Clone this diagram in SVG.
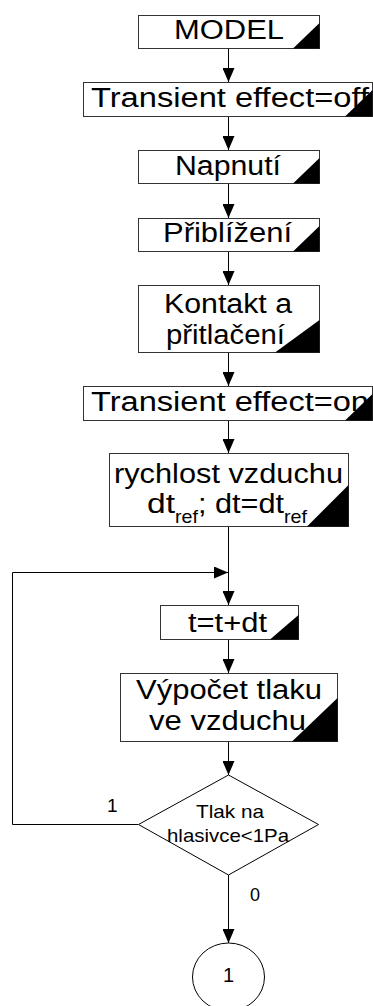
<svg xmlns="http://www.w3.org/2000/svg" width="373" height="1006" viewBox="0 0 373 1006">
<style>
.box{fill:#fff;stroke:#333;stroke-width:1}
.tri{fill:#000;stroke:none}
.t{font-family:"Liberation Sans",Arial,sans-serif;font-size:27px;fill:#000}
.s{font-family:"Liberation Sans",Arial,sans-serif;font-size:19px;fill:#000}
.c{fill:none;stroke:#000;stroke-width:1}
</style>
<defs>
<marker id="ah" markerUnits="userSpaceOnUse" markerWidth="14" markerHeight="12" viewBox="0 0 14 12" refX="14" refY="6" orient="auto">
<path d="M0,0 L14,6 L0,12 z" fill="#000"/>
</marker>
</defs>
<rect width="373" height="1006" fill="#fff"/>
<g id="connectors">
<line class="c" x1="228.5" y1="48.5" x2="228.5" y2="82" marker-end="url(#ah)"/>
<line class="c" x1="228.5" y1="116.5" x2="228.5" y2="150" marker-end="url(#ah)"/>
<line class="c" x1="228.5" y1="183.5" x2="228.5" y2="218" marker-end="url(#ah)"/>
<line class="c" x1="228.5" y1="251.5" x2="228.5" y2="285" marker-end="url(#ah)"/>
<line class="c" x1="228.5" y1="352.5" x2="228.5" y2="386" marker-end="url(#ah)"/>
<line class="c" x1="228.5" y1="420.5" x2="228.5" y2="453" marker-end="url(#ah)"/>
<line class="c" x1="228.5" y1="526.5" x2="228.5" y2="605" marker-end="url(#ah)"/>
<line class="c" x1="228.5" y1="639.5" x2="228.5" y2="673" marker-end="url(#ah)"/>
<line class="c" x1="228.5" y1="741.5" x2="228.5" y2="775" marker-end="url(#ah)"/>
<line class="c" x1="228.5" y1="875" x2="228.5" y2="943" marker-end="url(#ah)"/>
<polyline class="c" points="138,824.5 12.5,824.5 12.5,572.5 228,572.5" marker-end="url(#ah)"/>
<text class="s" x="107" y="812">1</text>
<text class="s" x="250" y="901" style="font-size:18px">0</text>
</g>
<g id="n-model">
<rect class="box" x="138.5" y="15.5" width="181" height="33"/>
<polygon class="tri" points="293,48.5 319.5,48.5 319.5,23"/>
<text class="t" x="174" y="39" textLength="110" lengthAdjust="spacingAndGlyphs">MODEL</text>
</g>
<g id="n-transient-off">
<rect class="box" x="83.5" y="82.5" width="289" height="34"/>
<text class="t" x="91" y="107" textLength="278" lengthAdjust="spacingAndGlyphs">Transient effect=off</text>
<polygon class="tri" points="345,116.5 372.5,116.5 372.5,90"/>
</g>
<g id="n-napnuti">
<rect class="box" x="138.5" y="150.5" width="181" height="33"/>
<text class="t" x="175" y="175" textLength="106" lengthAdjust="spacingAndGlyphs">Napnutí</text>
<polygon class="tri" points="293,183.5 319.5,183.5 319.5,158"/>
</g>
<g id="n-priblizeni">
<rect class="box" x="138.5" y="218.5" width="181" height="33"/>
<text class="t" x="163" y="242" textLength="129" lengthAdjust="spacingAndGlyphs">Přiblížení</text>
<polygon class="tri" points="293,251.5 319.5,251.5 319.5,226"/>
</g>
<g id="n-kontakt">
<rect class="box" x="138.5" y="285.5" width="181" height="67"/>
<text class="t" x="164" y="313" textLength="128" lengthAdjust="spacingAndGlyphs">Kontakt a</text>
<text class="t" x="166" y="344" textLength="119" lengthAdjust="spacingAndGlyphs">přitlačení</text>
<polygon class="tri" points="275,352.5 319.5,352.5 319.5,320"/>
</g>
<g id="n-transient-on">
<rect class="box" x="83.5" y="386.5" width="289" height="34"/>
<text class="t" x="91" y="411" textLength="278" lengthAdjust="spacingAndGlyphs">Transient effect=on</text>
<polygon class="tri" points="345,420.5 372.5,420.5 372.5,394"/>
</g>
<g id="n-rychlost">
<rect class="box" x="109.5" y="453.5" width="239" height="73"/>
<text class="t" x="114" y="483" textLength="229" lengthAdjust="spacingAndGlyphs">rychlost vzduchu</text>
<text class="t" y="513"><tspan x="147" textLength="28" lengthAdjust="spacingAndGlyphs">dt</tspan><tspan x="175" y="523" style="font-size:19px" textLength="23" lengthAdjust="spacingAndGlyphs">ref</tspan><tspan x="198" y="513" textLength="86" lengthAdjust="spacingAndGlyphs">; dt=dt</tspan><tspan x="284" y="523" style="font-size:19px" textLength="23" lengthAdjust="spacingAndGlyphs">ref</tspan></text>
<polygon class="tri" points="307,526.5 348.5,526.5 348.5,485"/>
</g>
<g id="n-t">
<rect class="box" x="160.5" y="605.5" width="138" height="34"/>
<text class="t" x="188" y="632" textLength="79" lengthAdjust="spacingAndGlyphs">t=t+dt</text>
<polygon class="tri" points="270,639.5 298.5,639.5 298.5,615"/>
</g>
<g id="n-vypocet">
<rect class="box" x="120.5" y="673.5" width="217" height="68"/>
<text class="t" x="136" y="699" textLength="186" lengthAdjust="spacingAndGlyphs">Výpočet tlaku</text>
<text class="t" x="149" y="730" textLength="157" lengthAdjust="spacingAndGlyphs">ve vzduchu</text>
<polygon class="tri" points="292,741.5 337.5,741.5 337.5,698"/>
</g>
<g id="n-decision">
<polygon points="228.5,775 318.5,824.5 228.5,875 138.5,824.5" fill="#fff" stroke="#000" stroke-width="1"/>
<text class="s" x="196" y="818" textLength="68" lengthAdjust="spacingAndGlyphs">Tlak na</text>
<text class="s" x="167" y="842" textLength="122" lengthAdjust="spacingAndGlyphs">hlasivce&lt;1Pa</text>
</g>
<g id="n-end">
<ellipse cx="228.5" cy="977" rx="36" ry="34" fill="#fff" stroke="#000" stroke-width="1"/>
<text class="s" x="228.5" y="982" text-anchor="middle" style="font-size:20px">1</text>
</g>
</svg>
